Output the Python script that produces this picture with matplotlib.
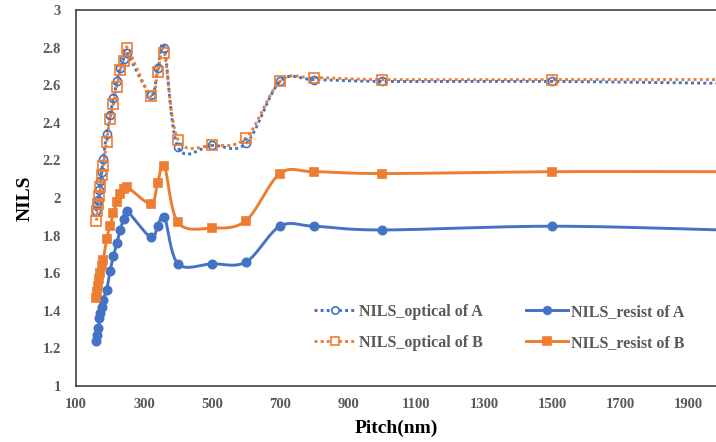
import numpy as np
import matplotlib
import matplotlib.pyplot as plt

matplotlib.rcParams['font.family'] = 'serif'
matplotlib.rcParams['font.serif'] = ['Liberation Serif', 'DejaVu Serif']

# pitch values (nm), shared by all four series
pitch = [160, 163, 166, 169, 172, 175, 180, 190, 200, 210, 220, 230, 240, 250,
         320, 340, 360, 400, 500, 600, 700, 800, 1000, 1500, 2000]

optical_a = [1.93, 1.97, 1.99, 2.04, 2.09, 2.14, 2.21, 2.34, 2.44, 2.53, 2.62, 2.69, 2.74, 2.77,
             2.55, 2.69, 2.80, 2.27, 2.28, 2.29, 2.62, 2.63, 2.62, 2.62, 2.61]
resist_a = [1.24, 1.27, 1.31, 1.36, 1.39, 1.42, 1.46, 1.51, 1.61, 1.69, 1.76, 1.83, 1.89, 1.93,
            1.79, 1.85, 1.90, 1.65, 1.65, 1.66, 1.85, 1.85, 1.83, 1.85, 1.83]
optical_b = [1.88, 1.93, 1.97, 2.01, 2.06, 2.12, 2.17, 2.30, 2.42, 2.50, 2.59, 2.68, 2.73, 2.80,
             2.54, 2.67, 2.77, 2.31, 2.28, 2.32, 2.62, 2.64, 2.63, 2.63, 2.63]
resist_b = [1.47, 1.50, 1.53, 1.57, 1.60, 1.64, 1.67, 1.78, 1.85, 1.92, 1.98, 2.02, 2.05, 2.06,
            1.97, 2.08, 2.17, 1.87, 1.84, 1.88, 2.13, 2.14, 2.13, 2.14, 2.14]

BLUE = '#4472C4'
ORANGE = '#ED7D31'
GREY = '#595959'

fig = plt.figure(figsize=(7.16, 4.42), dpi=100)
ax = fig.add_axes([76 / 716, 56 / 442, 640 / 716, 376 / 442])
ax.set_xlim(100, 1982)
ax.set_ylim(1, 3)


def smooth(x, y, n=20):
    # excel-like smoothed line: bezier with neighbour-based control points, in display space
    pts = ax.transData.transform(np.column_stack([x, y]))
    out = []
    m = len(pts)
    for i in range(m - 1):
        p0 = pts[i - 1] if i > 0 else pts[i]
        p1 = pts[i]
        p2 = pts[i + 1]
        p3 = pts[i + 2] if i + 2 < m else pts[i + 1]
        c1 = p1 + (p2 - p0) / 6
        c2 = p2 - (p3 - p1) / 6
        t = np.linspace(0, 1, n)[:, None]
        seg = ((1 - t) ** 3) * p1 + 3 * ((1 - t) ** 2) * t * c1 + 3 * (1 - t) * t ** 2 * c2 + t ** 3 * p2
        out.append(seg if i == 0 else seg[1:])
    out = np.vstack(out)
    d = ax.transData.inverted().transform(out)
    return d[:, 0], d[:, 1]


dots = (0, (1, 1.1))
series = [
    (optical_a, BLUE, dots, 'o', 'none', 5.8, 'NILS_optical of A'),
    (optical_b, ORANGE, dots, 's', 'none', 6.5, 'NILS_optical of B'),
    (resist_a, BLUE, '-', 'o', BLUE, 6.0, 'NILS_resist of A'),
    (resist_b, ORANGE, '-', 's', ORANGE, 6.3, 'NILS_resist of B'),
]

handles = []
for vals, col, ls, mk, fc, ms, lab in series:
    sx, sy = smooth(pitch, vals)
    ax.plot(sx, sy, color=col, ls=ls, lw=2.1, zorder=2)
    ax.plot(pitch, vals, ls='none', marker=mk, ms=ms, mfc=fc,
            mec=col, mew=1.2, zorder=3, clip_on=False)
    h, = ax.plot([], [], color=col, ls=ls, lw=2.1, marker=mk, ms=ms - 0.5,
                 mfc=fc if fc != 'none' else 'white', mec=col, mew=1.2, label=lab)
    handles.append(h)

ax.set_xticks(range(100, 2000, 200))
ax.set_yticks(np.arange(1, 3.01, 0.2))
ax.set_yticklabels(['1', '1.2', '1.4', '1.6', '1.8', '2', '2.2', '2.4', '2.6', '2.8', '3'])
ax.tick_params(length=0, labelsize=10.5, labelcolor=GREY)
ax.tick_params(axis='y', pad=11)
ax.tick_params(axis='x', pad=9)
for t in ax.get_xticklabels() + ax.get_yticklabels():
    t.set_fontweight('bold')

for s in ['left', 'bottom', 'top']:
    ax.spines[s].set_color('#404040')
    ax.spines[s].set_linewidth(1.2)
ax.spines['right'].set_visible(False)

ax.set_xlabel('Pitch(nm)', fontsize=14, fontweight='bold', labelpad=6)
ax.set_ylabel('NILS', fontsize=14, fontweight='bold', labelpad=6)

leg = ax.legend(handles=handles, ncol=2, frameon=False, loc='lower left',
                bbox_to_anchor=(0.35, 0.055), prop={'weight': 'bold', 'size': 11.5},
                labelcolor=GREY, handlelength=2.6, handletextpad=0.2,
                columnspacing=2.7, labelspacing=0.95)

fig.savefig('out.png', dpi=100)
